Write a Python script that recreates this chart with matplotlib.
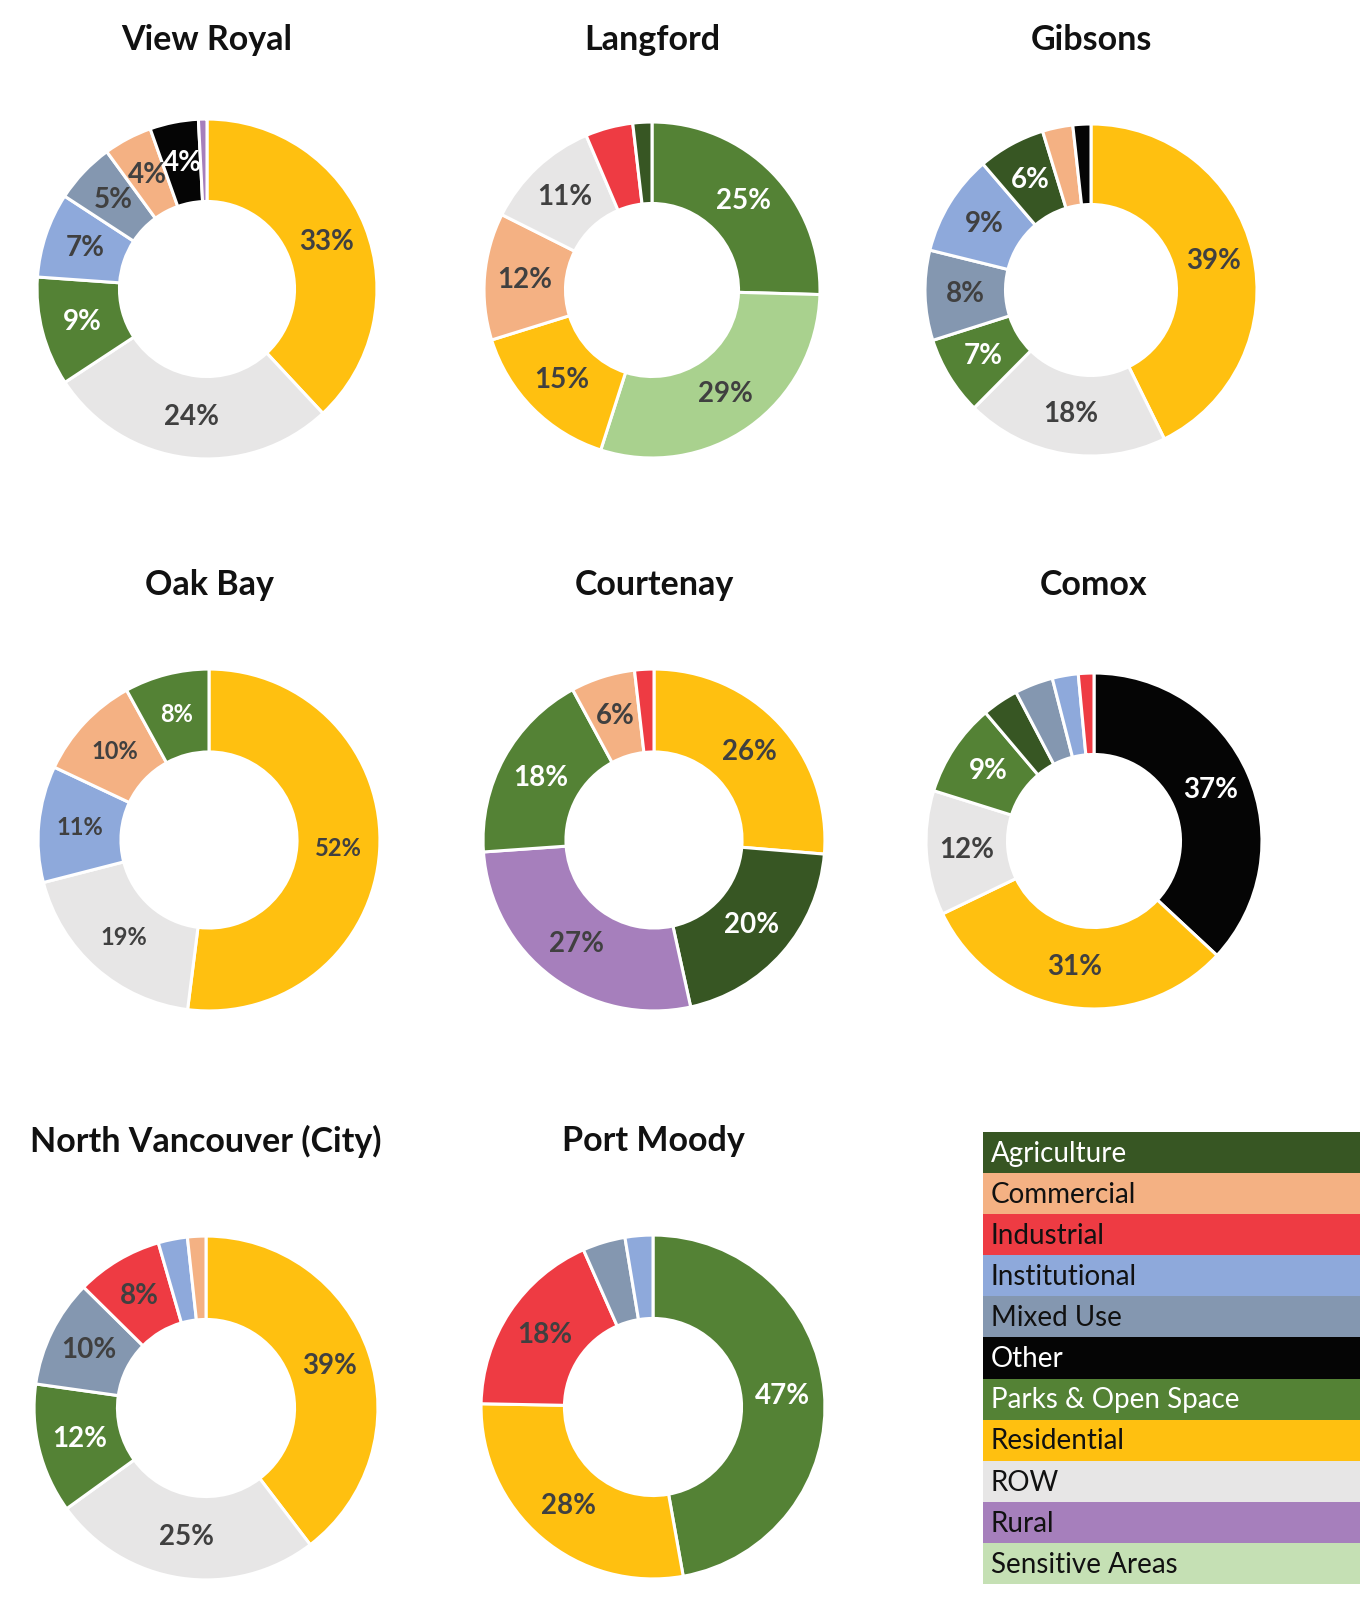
import matplotlib
matplotlib.use('Agg')
import matplotlib.pyplot as plt
import numpy as np

# land-use categories and their colours
categories = ['Agriculture', 'Commercial', 'Industrial', 'Institutional', 'Mixed Use',
              'Other', 'Parks & Open Space', 'Residential', 'ROW', 'Rural', 'Sensitive Areas']
cat_colors = {
    'Agriculture': '#375623',
    'Commercial': '#F4B183',
    'Industrial': '#EE3B43',
    'Institutional': '#8EA9DB',
    'Mixed Use': '#8497B0',
    'Other': '#050505',
    'Parks & Open Space': '#548235',
    'Residential': '#FFC010',
    'ROW': '#E7E6E6',
    'Rural': '#A67FBC',
    'Sensitive Areas': '#A9D18E',
}
legend_colors = dict(cat_colors)
legend_colors['Sensitive Areas'] = '#C5E0B4'
white_text = ['Agriculture', 'Other', 'Parks & Open Space']

# slices clockwise from 12 o'clock; None = slice without a label
view_royal_cats = ['Residential', 'ROW', 'Parks & Open Space', 'Institutional', 'Mixed Use',
                   'Commercial', 'Other', 'Rural']
view_royal_vals = [33, 24, 9, 7, 5, 4, 4, 0.7]
view_royal_lbls = ['33%', '24%', '9%', '7%', '5%', '4%', '4%', None]

langford_cats = ['Parks & Open Space', 'Sensitive Areas', 'Residential', 'Commercial', 'ROW',
                 'Industrial', 'Agriculture']
langford_vals = [25, 29, 15, 12, 11, 4.5, 1.8]
langford_lbls = ['25%', '29%', '15%', '12%', '11%', None, None]

gibsons_cats = ['Residential', 'ROW', 'Parks & Open Space', 'Mixed Use', 'Institutional',
                'Agriculture', 'Commercial', 'Other']
gibsons_vals = [39, 18, 7, 8, 9, 6, 2.7, 1.6]
gibsons_lbls = ['39%', '18%', '7%', '8%', '9%', '6%', None, None]

oak_bay_cats = ['Residential', 'ROW', 'Institutional', 'Commercial', 'Parks & Open Space']
oak_bay_vals = [52, 19, 11, 10, 8]
oak_bay_lbls = ['52%', '19%', '11%', '10%', '8%']

courtenay_cats = ['Residential', 'Agriculture', 'Rural', 'Parks & Open Space', 'Commercial',
                  'Industrial']
courtenay_vals = [26, 20, 27, 18, 6, 1.8]
courtenay_lbls = ['26%', '20%', '27%', '18%', '6%', None]

comox_cats = ['Other', 'Residential', 'ROW', 'Parks & Open Space', 'Agriculture', 'Mixed Use',
              'Institutional', 'Industrial']
comox_vals = [37, 31, 12, 9, 3.5, 3.7, 2.5, 1.5]
comox_lbls = ['37%', '31%', '12%', '9%', None, None, None, None]

north_van_cats = ['Residential', 'ROW', 'Parks & Open Space', 'Mixed Use', 'Industrial',
                  'Institutional', 'Commercial']
north_van_vals = [39, 25, 12, 10, 8, 2.7, 1.7]
north_van_lbls = ['39%', '25%', '12%', '10%', '8%', None, None]

port_moody_cats = ['Parks & Open Space', 'Residential', 'Industrial', 'Mixed Use', 'Institutional']
port_moody_vals = [47, 28, 18, 4, 2.6]
port_moody_lbls = ['47%', '28%', '18%', None, None]

W, H = 1371, 1600
fig = plt.figure(figsize=(W / 100, H / 100), dpi=100)
plt.rcParams['font.family'] = ['Lato', 'DejaVu Sans']

# (title, cats, vals, labels, centre x, centre y, radius, title y, label size)
towns = [
    ('View Royal', view_royal_cats, view_royal_vals, view_royal_lbls, 207, 289, 170, 40, 20),
    ('Langford', langford_cats, langford_vals, langford_lbls, 652, 290, 168, 40, 20),
    ('Gibsons', gibsons_cats, gibsons_vals, gibsons_lbls, 1091, 290, 166, 40, 20),
    ('Oak Bay', oak_bay_cats, oak_bay_vals, oak_bay_lbls, 209, 840, 171, 585, 17),
    ('Courtenay', courtenay_cats, courtenay_vals, courtenay_lbls, 654, 840, 171, 585, 20),
    ('Comox', comox_cats, comox_vals, comox_lbls, 1094, 841, 168, 585, 20),
    ('North Vancouver (City)', north_van_cats, north_van_vals, north_van_lbls, 206, 1408, 172, 1141, 20),
    ('Port Moody', port_moody_cats, port_moody_vals, port_moody_lbls, 653, 1407, 172, 1141, 20),
]

hole = 0.515
for title, cats, vals, lbls, cx, cy, r, ty, fs in towns:
    ax = fig.add_axes([(cx - r - 2) / W, (H - cy - r - 2) / H, (2 * r + 4) / W, (2 * r + 4) / H])
    wedges, _ = ax.pie(vals, colors=[cat_colors[c] for c in cats], startangle=90,
                       counterclock=False, radius=1,
                       wedgeprops=dict(width=1 - hole, edgecolor='white', linewidth=2.2))
    ax.set_xlim(-1.012, 1.012)
    ax.set_ylim(-1.012, 1.012)
    ax.set_aspect('equal')
    ax.axis('off')
    for w, c, lb in zip(wedges, cats, lbls):
        if lb is None:
            continue
        ang = np.deg2rad((w.theta1 + w.theta2) / 2)
        rr = (1 + hole) / 2
        ax.text(rr * np.cos(ang), rr * np.sin(ang), lb, ha='center', va='center',
                fontsize=fs, fontweight='bold',
                color='white' if c in white_text else '#404040')
    fig.text(cx / W, 1 - ty / H, title, ha='center', va='center',
             fontsize=24.5, fontweight='bold', color='#111111')

# legend as a stack of coloured bands
lx0, lx1, ly0, ly1 = 983, 1360, 1132, 1584
lax = fig.add_axes([lx0 / W, (H - ly1) / H, (lx1 - lx0) / W, (ly1 - ly0) / H])
n = len(categories)
lax.barh(range(n), [1] * n, height=1.0, left=0,
         color=[legend_colors[c] for c in categories])
lax.set_xlim(0, 1)
lax.set_ylim(n - 0.5, -0.5)
lax.axis('off')
for i, c in enumerate(categories):
    lax.text(0.02, i + 0.03, c, ha='left', va='center', fontsize=20,
             color='white' if c in white_text else '#111111')

fig.savefig('out.png', dpi=100, facecolor='white')
